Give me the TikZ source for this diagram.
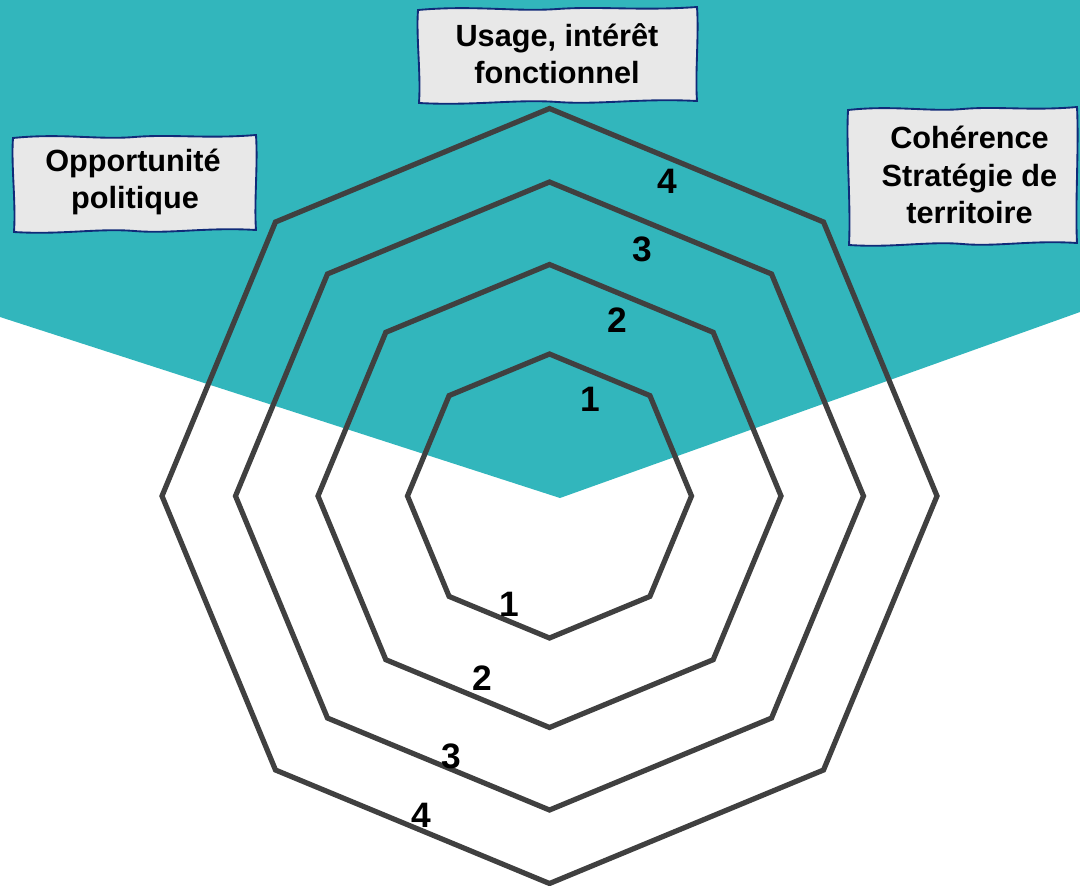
\documentclass[tikz,border=0pt]{standalone}
\usepackage{fontspec}
\setmainfont{Liberation Sans}
\usetikzlibrary{calc}
\definecolor{tealbg}{HTML}{32B6BC}
\definecolor{octcol}{HTML}{404040}
\definecolor{boxfill}{HTML}{E8E8E8}
\definecolor{navy}{HTML}{102A78}
\tikzset{
  octline/.style={draw=octcol,line width=3.9pt,line join=miter},
  boxst/.style={draw=navy,fill=boxfill,line width=1.4pt},
  lbl/.style={anchor=base,inner sep=0pt,font=\fontsize{23}{27.75}\selectfont\bfseries,text=black},
  num/.style={inner sep=0pt,font=\fontsize{26.5}{30}\selectfont\bfseries,text=black}
}
\newcommand\skbox[4]{%
  \path[boxst] (#1,#2+2)
   .. controls ({#1+0.2*(#3-#1)},{#2-3}) and ({#1+0.35*(#3-#1)},{#2+4}) .. ({#1+0.5*(#3-#1)},{#2+1})
   .. controls ({#1+0.65*(#3-#1)},{#2-2}) and ({#1+0.8*(#3-#1)},{#2+3}) .. (#3,{#2-1})
   .. controls ({#3+2},{#2+0.3*(#4-#2)}) and ({#3-2},{#2+0.7*(#4-#2)}) .. (#3,{#4-1})
   .. controls ({#1+0.8*(#3-#1)},{#4-4}) and ({#1+0.65*(#3-#1)},{#4+3}) .. ({#1+0.5*(#3-#1)},{#4})
   .. controls ({#1+0.35*(#3-#1)},{#4-3}) and ({#1+0.2*(#3-#1)},{#4+4}) .. ({#1+1},{#4+1})
   .. controls ({#1+3},{#2+0.7*(#4-#2)}) and ({#1-2},{#2+0.3*(#4-#2)}) .. (#1,#2+2) -- cycle;}
\begin{document}
\begin{tikzpicture}[x=0.75pt,y=-0.75pt]
\useasboundingbox (0,0) rectangle (1080,885);
% teal background
\fill[tealbg] (0,0) -- (1080,0) -- (1080,312) -- (560,498) -- (0,317) -- cycle;
% octagons
\coordinate (C) at (549.5,496);
\foreach \r in {142,231.5,314,387.5}{
  \draw[octline] ($(C)+(90:\r)$) -- ($(C)+(135:\r)$) -- ($(C)+(180:\r)$) -- ($(C)+(225:\r)$)
    -- ($(C)+(270:\r)$) -- ($(C)+(315:\r)$) -- ($(C)+(0:\r)$) -- ($(C)+(45:\r)$) -- cycle;
}
% scale numbers
\node[num] (u4) at (667,181) {4};
\node[num] (u3) at (642,249) {3};
\node[num] (u2) at (617,320) {2};
\node[num] (u1) at (590,399) {1};
\node[num] (d1) at (509,604) {1};
\node[num] (d2) at (482,678) {2};
\node[num] (d3) at (451,756) {3};
\node[num] (d4) at (421,815) {4};
% label boxes
\skbox{418}{8}{697}{102}
\node[lbl] (usage1) at (557,46) {Usage, intérêt};
\node[lbl] (usage2) at (557,83) {fonctionnel};
\skbox{13}{136}{256}{231}
\node[lbl] (opp1) at (133,171) {Opportunité};
\node[lbl] (opp2) at (135,208) {politique};
\skbox{848}{108}{1077}{244}
\node[lbl] (coh1) at (969.5,148) {Cohérence};
\node[lbl] (coh2) at (969.5,186) {Stratégie de};
\node[lbl] (coh3) at (969.5,223) {territoire};
\end{tikzpicture}
\end{document}
